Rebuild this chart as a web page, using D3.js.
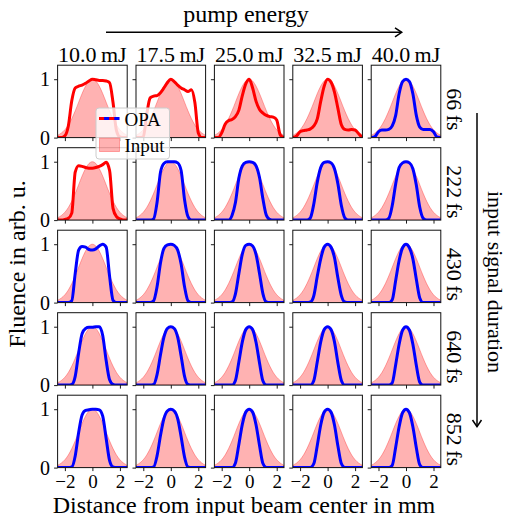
<!DOCTYPE html>
<html><head><meta charset="utf-8">
<script src="https://cdn.jsdelivr.net/npm/d3@7"></script>
<style>
html,body{margin:0;padding:0;background:#fff;}
svg{display:block;font-family:"Liberation Serif","Times New Roman",serif;}
</style></head>
<body><svg id="chart" width="507" height="516"></svg>
<script>
// ---------- data ----------
const energies = ["10.0\u2009mJ","17.5\u2009mJ","25.0\u2009mJ","32.5\u2009mJ","40.0\u2009mJ"];
const durations = ["66\u2009fs","222\u2009fs","430\u2009fs","640\u2009fs","852\u2009fs"];
const xTicks = [-2, 0, 2];
const yTicks = [0, 1];
const positions = [-2.5,-2.25,-2,-1.75,-1.5,-1.25,-1,-0.75,-0.5,-0.25,0,0.25,0.5,0.75,1,1.25,1.5,1.75,2,2.25,2.5];
const inputFluence = [0.044,0.08,0.135,0.216,0.325,0.458,0.607,0.755,0.882,0.969,1.0,0.969,0.882,0.755,0.607,0.458,0.325,0.216,0.135,0.08,0.044];
const opa66 = [
  [0,0,0.03,0.2,0.63,0.85,0.88,0.9,0.93,0.97,1.0,0.99,0.98,0.98,0.97,0.94,0.6,0.12,0.01,0,0],
  [0,0,0.01,0.4,0.68,0.71,0.72,0.77,0.85,0.94,1.0,0.96,0.9,0.85,0.82,0.79,0.82,0.6,0.08,0,0],
  [0,0,0.08,0.23,0.29,0.31,0.36,0.47,0.72,0.92,1.0,0.85,0.62,0.48,0.42,0.38,0.36,0.35,0.3,0.05,0],
  [0,0.03,0.1,0.12,0.13,0.15,0.2,0.32,0.62,0.88,1.0,0.95,0.78,0.5,0.22,0.14,0.13,0.14,0.13,0.07,0],
  [0,0.02,0.1,0.13,0.13,0.14,0.2,0.38,0.75,0.96,1.0,0.96,0.75,0.38,0.18,0.14,0.14,0.14,0.1,0.01,0]
];
const opa222 = [
  [0,0,0.01,0.03,0.12,0.82,0.93,0.92,0.9,0.89,0.89,0.9,0.92,0.95,0.99,0.85,0.2,0.06,0.02,0,0],
  [0,0,0,0,0,0.02,0.3,0.82,0.97,1.0,1.0,1.0,0.98,0.85,0.35,0.06,0,0,0,0,0],
  [0,0,0,0,0,0.08,0.3,0.72,0.93,0.99,1.0,0.99,0.93,0.73,0.36,0.08,0.01,0,0,0,0],
  [0,0,0,0,0,0.04,0.28,0.65,0.9,0.99,1.0,0.98,0.88,0.62,0.25,0.04,0,0,0,0,0],
  [0,0,0,0,0,0.03,0.25,0.62,0.9,0.98,1.0,0.98,0.88,0.6,0.22,0.03,0,0,0,0,0]
];
const opa430 = [
  [0,0,0,0,0.03,0.5,0.9,0.96,0.95,0.91,0.9,0.92,0.97,1.0,0.95,0.45,0.04,0,0,0,0],
  [0,0,0,0,0,0.03,0.27,0.68,0.93,0.99,1.0,0.98,0.9,0.66,0.27,0.03,0,0,0,0,0],
  [0,0,0,0,0,0.01,0.15,0.5,0.83,0.98,1.0,0.97,0.82,0.5,0.15,0.01,0,0,0,0,0],
  [0,0,0,0,0,0.01,0.12,0.45,0.75,0.95,1.0,0.95,0.77,0.42,0.12,0.01,0,0,0,0,0],
  [0,0,0,0,0,0,0.05,0.38,0.72,0.94,1.0,0.94,0.75,0.4,0.08,0,0,0,0,0,0]
];
const opa640 = [
  [0,0,0,0,0.01,0.15,0.55,0.88,0.97,0.99,0.99,1.0,1.0,0.85,0.42,0.09,0.01,0,0,0,0],
  [0,0,0,0,0,0.01,0.18,0.52,0.82,0.97,1.0,0.97,0.82,0.5,0.15,0.01,0,0,0,0,0],
  [0,0,0,0,0,0,0.08,0.4,0.74,0.95,1.0,0.95,0.73,0.38,0.07,0,0,0,0,0,0],
  [0,0,0,0,0,0,0.08,0.4,0.74,0.95,1.0,0.95,0.74,0.38,0.08,0,0,0,0,0,0],
  [0,0,0,0,0,0,0.04,0.35,0.7,0.94,1.0,0.94,0.7,0.34,0.05,0,0,0,0,0,0]
];
const opa852 = [
  [0,0,0,0,0.01,0.2,0.6,0.9,0.98,0.99,1.0,1.0,0.99,0.88,0.5,0.12,0.01,0,0,0,0],
  [0,0,0,0,0,0.01,0.2,0.55,0.84,0.97,1.0,0.97,0.84,0.53,0.18,0.01,0,0,0,0,0],
  [0,0,0,0,0,0,0.08,0.4,0.74,0.95,1.0,0.95,0.73,0.38,0.07,0,0,0,0,0,0],
  [0,0,0,0,0,0,0.07,0.38,0.73,0.95,1.0,0.95,0.73,0.37,0.07,0,0,0,0,0,0],
  [0,0,0,0,0,0,0.04,0.35,0.7,0.94,1.0,0.94,0.7,0.34,0.05,0,0,0,0,0,0]
];
const opaRows = [opa66, opa222, opa430, opa640, opa852];
// which OPA runs are in the distorted (red) regime
const distorted = [
  [true,true,true,true,false],
  [true,false,false,false,false],
  [false,false,false,false,false],
  [false,false,false,false,false],
  [false,false,false,false,false]
];

// ---------- layout ----------
const svg = d3.select("#chart");
const left0 = 57.6, colStep = 78.4, pw = 69.6;
const top0 = 65.2, rowStep = 82.5, ph = 72.4;
const RED = "#ff0000", BLUE = "#0000ff";

const x = d3.scaleLinear().domain([-2.53, 2.53]).range([0, pw]);
const y = d3.scaleLinear().domain([0, 1.24]).range([ph, 0]);

const area = d3.area().x((d,i)=>x(positions[i])).y0(y(0)).y1(d=>y(d)).curve(d3.curveMonotoneX);
const line = d3.line().x((d,i)=>x(positions[i])).y(d=>y(d)).curve(d3.curveMonotoneX);

const defs = svg.append("defs");
defs.append("clipPath").attr("id","pclip").append("rect").attr("width",pw).attr("height",ph);

for (let r=0;r<5;r++){
  for (let c=0;c<5;c++){
    const g = svg.append("g").attr("transform",`translate(${left0+c*colStep},${top0+r*rowStep})`);
    const inner = g.append("g").attr("clip-path","url(#pclip)");
    inner.append("path").datum(inputFluence).attr("d",area)
      .attr("fill","rgba(255,0,0,0.3)").attr("stroke","rgba(255,0,0,0.3)").attr("stroke-width",1);
    inner.append("path").datum(opaRows[r][c]).attr("d",line)
      .attr("fill","none").attr("stroke",distorted[r][c]?RED:BLUE)
      .attr("stroke-width",3).attr("stroke-linejoin","round").attr("stroke-linecap","round");
    // axes
    const ya = d3.axisLeft(y).tickValues(yTicks).tickSize(3.5).tickPadding(4)
      .tickFormat(c===0? d3.format("d") : ()=> "");
    const yg = g.append("g").call(ya);
    const xa = d3.axisBottom(x).tickValues(xTicks).tickSize(3.5).tickPadding(3)
      .tickFormat(r===4? (d=>d<0?"\u2212"+Math.abs(d):String(d)) : ()=> "");
    const xg = g.append("g").attr("transform",`translate(0,${ph})`).call(xa);
    yg.selectAll("text").attr("font-size",20);
    xg.selectAll("text").attr("font-size",19);
    [yg,xg].forEach(a=>{
      a.select(".domain").remove();
      a.selectAll("line").attr("stroke","#000").attr("stroke-width",0.9);
      a.selectAll("text").attr("font-family","Liberation Serif, serif").attr("fill","#000");
    });
    g.append("rect").attr("width",pw).attr("height",ph).attr("fill","none")
      .attr("stroke","#111").attr("stroke-width",1);
    if (r===0){
      g.append("text").attr("x",pw/2).attr("y",-3).attr("text-anchor","middle")
        .attr("font-size",22).text(energies[c]);
    }
    if (c===4){
      g.append("text").attr("transform",`translate(${pw+14},${ph/2+8}) rotate(90)`)
        .attr("text-anchor","middle").attr("dominant-baseline","central")
        .attr("font-size",22).text(durations[r]);
    }
  }
}

// overall labels
svg.append("text").attr("x",246).attr("y",22).attr("text-anchor","middle").attr("font-size",24).text("pump energy");
svg.append("line").attr("x1",106).attr("y1",32.3).attr("x2",401.5).attr("y2",32.3).attr("stroke","#000").attr("stroke-width",1.5);
svg.append("path").attr("d","M395,27.8L401.7,32.3L395,36.8").attr("fill","none").attr("stroke","#000").attr("stroke-width",1.5);

svg.append("text").attr("x",244).attr("y",512.5).attr("text-anchor","middle").attr("font-size",24)
  .text("Distance from input beam center in mm");
svg.append("text").attr("transform","translate(17,264) rotate(-90)").attr("text-anchor","middle")
  .attr("dominant-baseline","central").attr("font-size",24).text("Fluence in arb. u.");

svg.append("text").attr("transform","translate(495,282) rotate(90)").attr("text-anchor","middle")
  .attr("dominant-baseline","central").attr("font-size",22).text("input signal duration");
svg.append("line").attr("x1",477).attr("y1",113).attr("x2",477).attr("y2",426.5).attr("stroke","#000").attr("stroke-width",1.5);
svg.append("path").attr("d","M472.5,420L477,426.7L481.5,420").attr("fill","none").attr("stroke","#000").attr("stroke-width",1.5);

// legend
const lg = svg.append("g").attr("transform","translate(96,108)");
lg.append("rect").attr("width",73.5).attr("height",51).attr("rx",3).attr("ry",3)
  .attr("fill","rgba(255,255,255,0.8)").attr("stroke","#cccccc").attr("stroke-width",1);
lg.append("line").attr("x1",3).attr("x2",23.5).attr("y1",10.5).attr("y2",10.5).attr("stroke",BLUE).attr("stroke-width",3);
lg.append("line").attr("x1",3).attr("x2",23.5).attr("y1",10.5).attr("y2",10.5).attr("stroke",RED).attr("stroke-width",3)
  .attr("stroke-dasharray","5.1,5.1");
lg.append("text").attr("x",28.5).attr("y",17.5).attr("font-size",19).text("OPA");
lg.append("rect").attr("x",3.5).attr("y",30).attr("width",20).attr("height",13.5)
  .attr("fill","rgba(255,0,0,0.3)").attr("stroke","rgba(255,0,0,0.3)").attr("stroke-width",1);
lg.append("text").attr("x",28.5).attr("y",43.5).attr("font-size",19).text("Input");
</script></body></html>
